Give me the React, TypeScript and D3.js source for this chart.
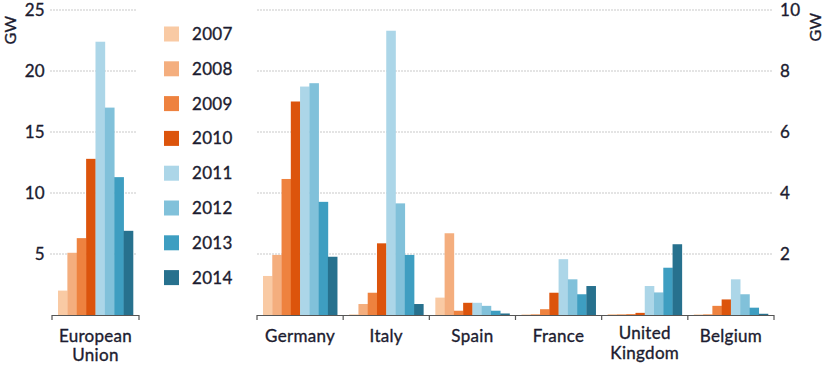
import React from "react";
import * as d3 from "d3";

const years = ["2007", "2008", "2009", "2010", "2011", "2012", "2013", "2014"];
const colors = ["#f9caa4", "#f4ae7e", "#ee823f", "#dc540c", "#acd6e8", "#81c1da", "#3e9ec1", "#27718e"];

const euCategory = ["European Union"];
const euValues = [[2.0, 5.1, 6.3, 12.8, 22.4, 17.0, 11.3, 6.9]];

const countries = ["Germany", "Italy", "Spain", "France", "United Kingdom", "Belgium"];
const countryLabels = [["Germany"], ["Italy"], ["Spain"], ["France"], ["United", "Kingdom"], ["Belgium"]];
const germany = [1.28, 1.97, 4.46, 7.0, 7.49, 7.6, 3.71, 1.91];
const italy = [0.02, 0.36, 0.73, 2.35, 9.32, 3.66, 1.97, 0.36];
const spain = [0.57, 2.68, 0.14, 0.4, 0.4, 0.3, 0.14, 0.05];
const france = [0.02, 0.03, 0.19, 0.73, 1.83, 1.17, 0.68, 0.95];
const uk = [0.03, 0.03, 0.03, 0.07, 0.95, 0.74, 1.55, 2.32];
const belgium = [0.02, 0.03, 0.3, 0.51, 1.17, 0.68, 0.24, 0.04];
const countryValues = [germany, italy, spain, france, uk, belgium];

const leftTicks = [5, 10, 15, 20, 25];
const rightTicks = [2, 4, 6, 8, 10];

const FONT = "Lato, 'Open Sans', sans-serif";
const TEXT = "#1c1c30";
const textStyle = { stroke: TEXT, strokeWidth: 0.35, letterSpacing: "0.3px" } as const;

export default function App() {
  const W = 839, H = 378;
  const y0 = 315, yTop = 10;
  const yL = d3.scaleLinear().domain([0, 25]).range([y0, yTop]);
  const yR = d3.scaleLinear().domain([0, 10]).range([y0, yTop]);

  const xL = d3.scaleBand().domain(euCategory).range([52, 139]).paddingInner(0).paddingOuter(0);
  const xR = d3.scaleBand().domain(countries).range([257, 774]);
  const innerPad = 6;

  const renderGroup = (
    cat: string,
    vals: number[],
    x: d3.ScaleBand<string>,
    y: d3.ScaleLinear<number, number>,
    key: string
  ) => {
    const bx0 = (x(cat) as number) + innerPad;
    const bw = x.bandwidth() - innerPad * 2;
    const sub = d3.scaleBand().domain(years).range([bx0, bx0 + bw]);
    return (
      <g key={key}>
        {vals.map((v, i) => (
          <rect
            key={i}
            x={sub(years[i])}
            y={y(v)}
            width={sub.bandwidth() + 0.3}
            height={y0 - y(v)}
            fill={colors[i]}
          />
        ))}
      </g>
    );
  };

  const euCx = (xL("European Union") as number) + xL.bandwidth() / 2;

  return (
    <svg width={W} height={H} style={{ position: "absolute", left: 0, top: 0 }} fontFamily={FONT}>
      <rect width={W} height={H} fill="#fff" />
      {leftTicks.map((t) => (
        <g key={"lg" + t}>
          <line x1={50} x2={137} y1={yL(t)} y2={yL(t)} stroke="#c9c9c9" strokeDasharray="2,1" strokeWidth={1} />
          <text x={45} y={yL(t)} dy="0.35em" textAnchor="end" fontSize={17} fill={TEXT} style={textStyle}>
            {t}
          </text>
        </g>
      ))}
      {rightTicks.map((t) => (
        <g key={"rg" + t}>
          <line x1={257} x2={773} y1={yR(t)} y2={yR(t)} stroke="#c9c9c9" strokeDasharray="2,1" strokeWidth={1} />
          <text x={780} y={yR(t)} dy="0.35em" textAnchor="start" fontSize={17} fill={TEXT} style={textStyle}>
            {t}
          </text>
        </g>
      ))}
      <text transform="translate(16,30) rotate(-90)" textAnchor="middle" fontSize={16} fill={TEXT} style={textStyle}>
        GW
      </text>
      <text transform="translate(821,27) rotate(-90)" textAnchor="middle" fontSize={16} fill={TEXT} style={textStyle}>
        GW
      </text>

      {euCategory.map((c, i) => renderGroup(c, euValues[i], xL, yL, "eu" + i))}
      {countries.map((c, i) => renderGroup(c, countryValues[i], xR, yR, "c" + i))}

      <line x1={52} x2={139} y1={y0 + 0.5} y2={y0 + 0.5} stroke="#555" strokeWidth={1.2} />
      {[52, 139].map((x) => (
        <line key={"lt" + x} x1={x} x2={x} y1={y0} y2={y0 + 5} stroke="#555" strokeWidth={1.2} />
      ))}
      <line x1={257} x2={774} y1={y0 + 0.5} y2={y0 + 0.5} stroke="#555" strokeWidth={1.2} />
      {[...countries.map((c) => xR(c) as number), 774].map((x, i) => (
        <line key={"rt" + i} x1={x} x2={x} y1={y0} y2={y0 + 5} stroke="#555" strokeWidth={1.2} />
      ))}

      <text textAnchor="middle" fontSize={17} fill={TEXT} style={textStyle}>
        <tspan x={euCx} y={342}>European</tspan>
        <tspan x={euCx} y={361}>Union</tspan>
      </text>
      {countries.map((c, i) => {
        const cx = (xR(c) as number) + xR.bandwidth() / 2;
        const lines = countryLabels[i];
        return (
          <text key={"cl" + i} textAnchor="middle" fontSize={17} fill={TEXT} style={textStyle}>
            {lines.map((l, j) => (
              <tspan key={j} x={cx} y={(lines.length > 1 ? 339 : 342) + j * 20}>
                {l}
              </tspan>
            ))}
          </text>
        );
      })}

      {years.map((yr, i) => (
        <g key={"lg" + yr} transform={`translate(164,${34 + i * 34.8})`}>
          <rect x={0} y={-7.5} width={15} height={15} fill={colors[i]} />
          <text x={28} y={0} dy="0.35em" fontSize={17} fill={TEXT} style={textStyle}>
            {yr}
          </text>
        </g>
      ))}
    </svg>
  );
}
